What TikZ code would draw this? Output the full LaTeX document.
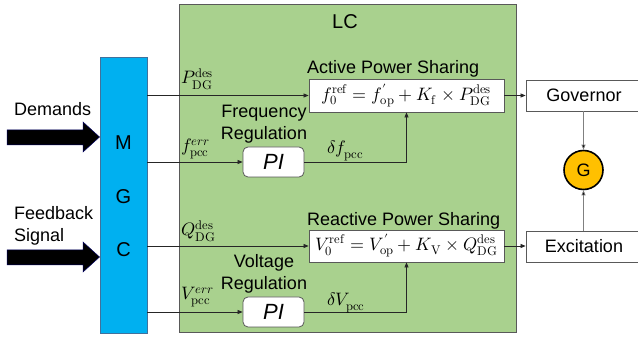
\documentclass[tikz,border=0pt]{standalone}
\usepackage{fontspec}
\usepackage{unicode-math}
\setmainfont{Liberation Sans}
\usetikzlibrary{arrows.meta}
\definecolor{lcgreen}{HTML}{A9D18E}
\definecolor{mgcblue}{HTML}{00B0F0}
\definecolor{gyellow}{HTML}{FFC000}
\definecolor{edgegray}{HTML}{595959}
\definecolor{blueedge}{HTML}{41719C}
\begin{document}
\begin{tikzpicture}[x=1pt,y=-1pt,
  every node/.style={font=\fontsize{18}{22}\selectfont, inner sep=0pt},
  box/.style={draw=edgegray, fill=white, line width=0.8pt, minimum height=31pt},
  pibox/.style={box, rounded corners=5pt, minimum width=61pt, minimum height=30pt, font=\fontsize{22}{26}\selectfont\itshape},
  sig/.style={draw=black!85, line width=0.7pt, -{Triangle[length=5pt,width=4pt]}},
  gsig/.style={sig, draw=gray, -{Triangle[length=5pt,width=4pt,fill=black]}},
  lbl/.style={anchor=west},
  bigletter/.style={font=\fontsize{20}{24}\selectfont},
  bigarrow/.style={fill=black, draw=black!60!blue, line width=0.5pt}
]
\clip (0,0) rectangle (638,339);
\fill[white] (0,0) rectangle (638,339);

% LC container
\node[draw=edgegray, fill=lcgreen, line width=0.8pt, minimum width=337pt, minimum height=328pt] (lc) at (347.5,168) {};
\node[bigletter] (lclabel) at (345,22) {LC};

% MGC
\node[draw=blueedge, fill=mgcblue, line width=0.8pt, minimum width=47pt, minimum height=276pt] (mgc) at (123.5,195) {};
\node[bigletter] (m) at (123.5,143) {M};
\node[bigletter] (gg) at (123.5,197) {G};
\node[bigletter] (c) at (123.5,250) {C};

% blocks
\node[box, minimum width=195pt, minimum height=33pt] (asp) at (406.5,95.5)
  {$f_0^{\symup{ref}} = f^{\prime}_{\symup{op}} + K_{\symup{f}} \times P_{\symup{DG}}^{\symup{des}}$};
\node[box, minimum width=195pt, minimum height=32pt] (rps) at (406.5,246)
  {$V_0^{\symup{ref}} = V^{\prime}_{\symup{op}} + K_{\symup{V}} \times Q_{\symup{DG}}^{\symup{des}}$};
\node[pibox] (pi1) at (273.5,162) {PI};
\node[pibox] (pi2) at (273.5,312) {PI};
\node[box, minimum width=116pt] (gov) at (584,95.5) {Governor};
\node[box, minimum width=116pt] (exc) at (584,246.5) {Excitation};
\node[circle, draw=black, line width=1.6pt, fill=gyellow, minimum size=39pt] (g) at (583.5,170) {G};

% connectors
\draw[sig] (mgc.east |- asp.west) -- (asp.west);
\draw[sig] (mgc.east |- pi1.west) -- (pi1.west);
\draw[sig] (mgc.east |- rps.west) -- (rps.west);
\draw[sig] (mgc.east |- pi2.west) -- (pi2.west);
\draw[sig] (pi1.east) -| (asp.south);
\draw[sig] (pi2.east) -| (rps.south);
\draw[sig] (asp.east) -- (asp.east -| gov.west);
\draw[sig] (rps.east) -- (rps.east -| exc.west);
\draw[gsig] (g.north |- gov.south) -- (g.north);
\draw[gsig] (g.south |- exc.north) -- (g.south);

% signal labels
\node[lbl] (pdes) at (181,79) {$P_{\symup{DG}}^{\symup{des}}$};
\node[lbl] (ferr) at (181,149) {$f_{\symup{pcc}}^{err}$};
\node[lbl] (df) at (327,151) {$\delta f_{\symup{pcc}}$};
\node[lbl] (qdes) at (181,231) {$Q_{\symup{DG}}^{\symup{des}}$};
\node[lbl] (verr) at (181,297) {$V_{\symup{pcc}}^{err}$};
\node[lbl] (dv) at (327,303) {$\delta V_{\symup{pcc}}$};

% text labels
\node[align=center] (freg) at (264,124) {Frequency\\Regulation};
\node[align=center] (vreg) at (264,274) {Voltage\\Regulation};
\node[lbl] (apslbl) at (307,69) {Active Power Sharing};
\node[lbl] (rpslbl) at (307,221) {Reactive Power Sharing};
\node[lbl] (dem) at (14,109) {Demands};
\node[lbl, align=left] (fb) at (14,226) {Feedback\\Signal};

% big input arrows
\filldraw[bigarrow] (7,130) -- (83,130) -- (83,122) -- (99.5,137) -- (83,152) -- (83,145) -- (7,145) -- cycle;
\filldraw[bigarrow] (7,250) -- (83,250) -- (83,242) -- (99.5,257) -- (83,272) -- (83,265) -- (7,265) -- cycle;
\end{tikzpicture}
\end{document}
